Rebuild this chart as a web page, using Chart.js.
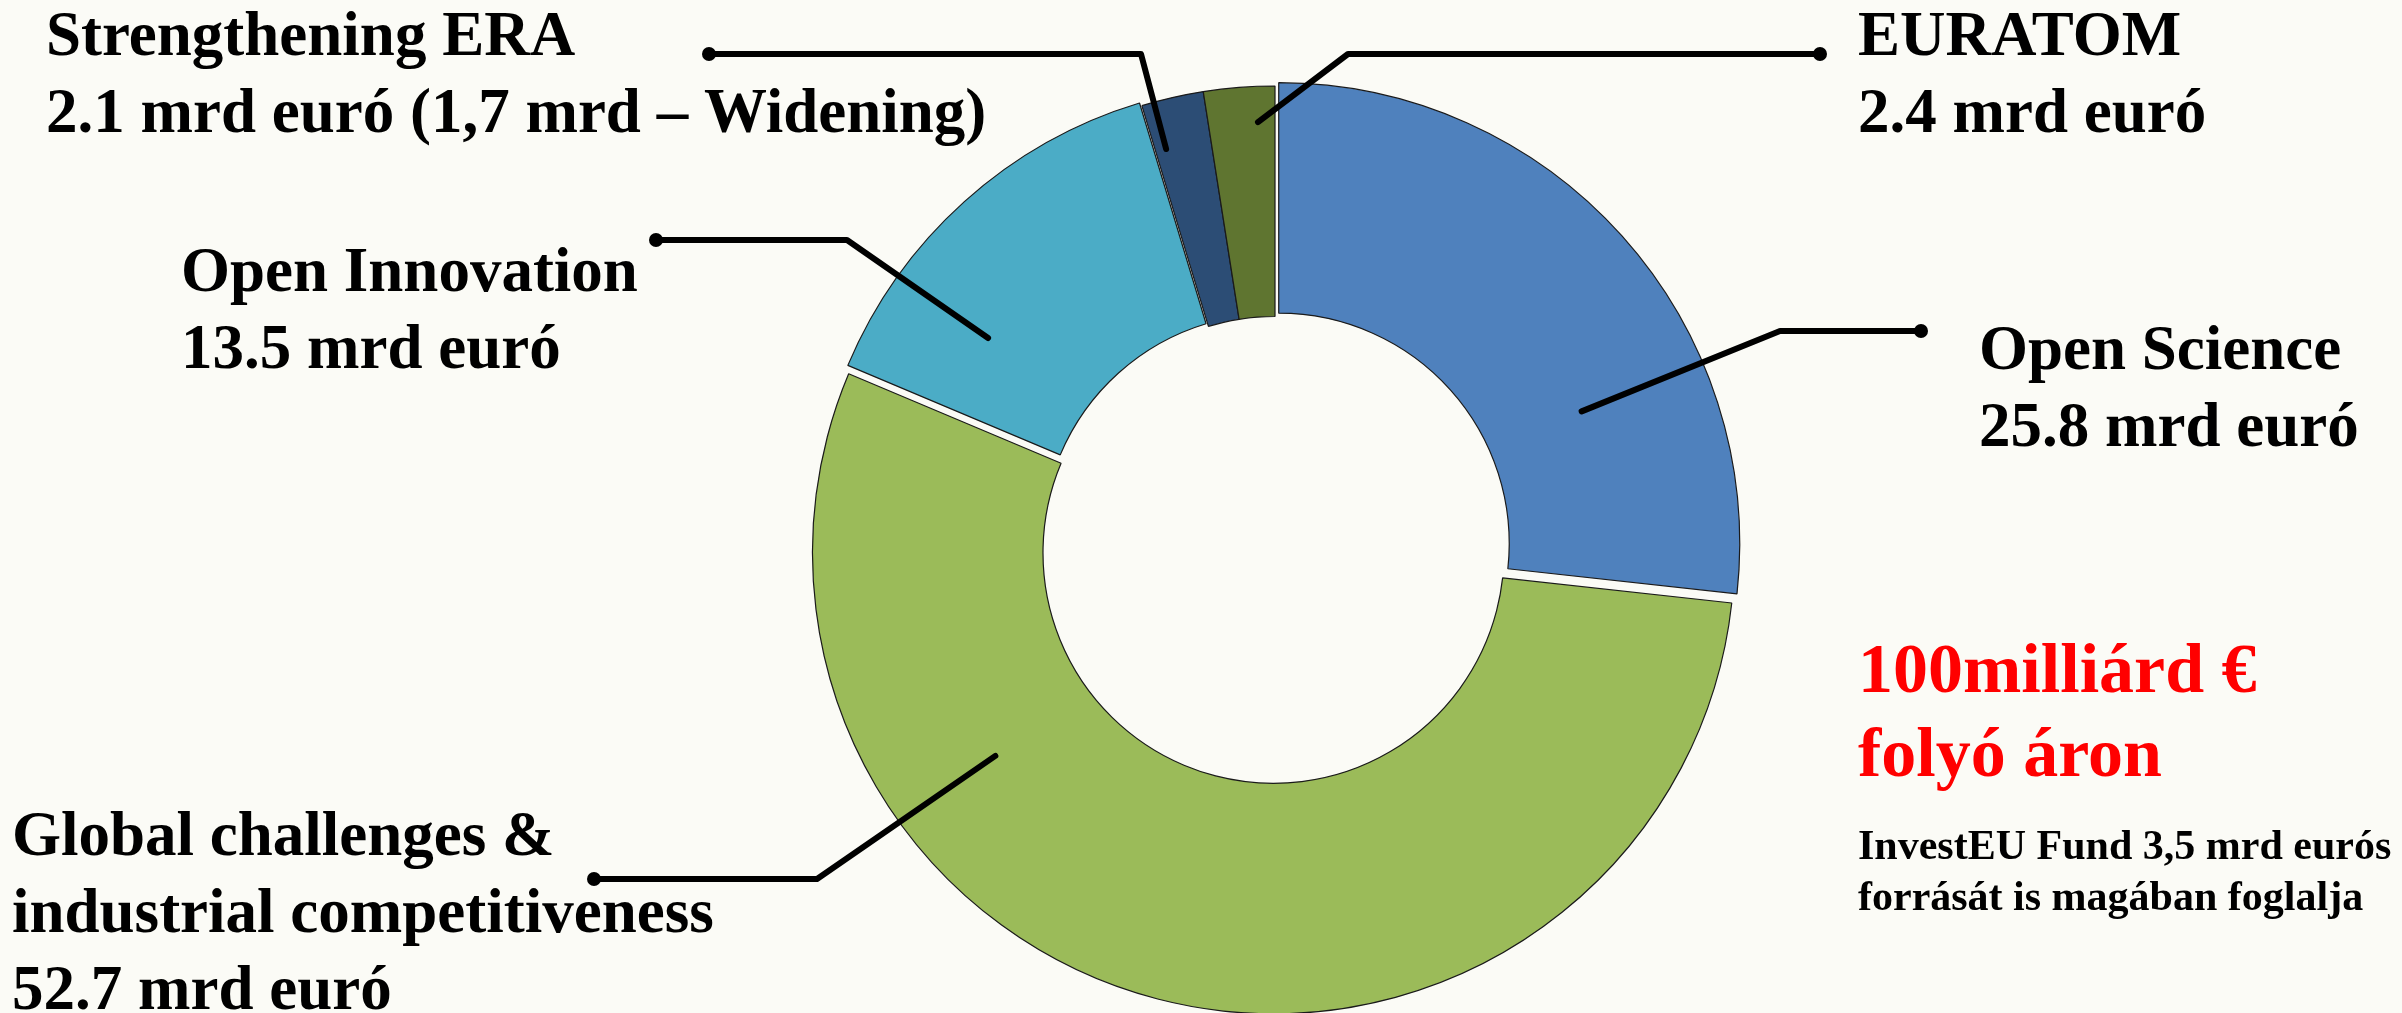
<!DOCTYPE html>
<html>
<head>
<meta charset="utf-8">
<script src="https://cdn.jsdelivr.net/npm/chart.js@4.4.0/dist/chart.umd.min.js"></script>
<style>
  html, body { margin: 0; padding: 0; background: #FBFBF6; overflow: hidden; }
  #wrap { position: relative; width: 2402px; height: 1013px; }
  canvas { display: block; }
</style>
</head>
<body>
<div id="wrap"><canvas id="c" width="2402" height="1013"></canvas></div>
<script>
// ---- data ----
const categories = ['Open Science', 'Global challenges & industrial competitiveness', 'Open Innovation', 'Strengthening ERA', 'EURATOM'];
const categoryLines = [['Open Science'], ['Global challenges &', 'industrial competitiveness'], ['Open Innovation'], ['Strengthening ERA'], ['EURATOM']];
const values = [25.8, 52.7, 13.5, 2.1, 2.4];
const valueLabels = ['25.8 mrd euró', '52.7 mrd euró', '13.5 mrd euró', '2.1 mrd euró (1,7 mrd – Widening)', '2.4 mrd euró'];
const totalLines = ['100milliárd €', 'folyó áron'];
const noteLines = ['InvestEU Fund 3,5 mrd eurós', 'forrását is magában foglalja'];

// ---- styles ----
const colors = ['#4F81BD', '#9BBB59', '#4BACC6', '#2C4D75', '#5F7530'];
const shifts = [5, 6, 3.5, 0, 0];           // explode distance of each slice (px)
const labelPos = [                          // x, first baseline
  [1979, 369], [12, 855], [181, 291], [46, 55], [1858, 55]
];
const leaders = [                           // angle fraction, radius fraction, elbow, dot
  {t: 0.69, rf: 0.434, elbow: [1780, 331], dot: [1921, 331]},
  {t: 0.70, rf: 0.494, elbow: [817, 879], dot: [594, 879]},
  {t: 0.26, rf: 0.525, elbow: [847, 240], dot: [656, 240]},
  {t: 0.19, rf: 0.79, elbow: [1141, 54], dot: [709, 54]},
  {t: 0.744, rf: 0.845, elbow: [1348, 54], dot: [1820, 54]}
];
const LINE_STEP = 77;
const SERIF = '"Liberation Serif", "Times New Roman", serif';

const explodePlugin = {
  id: 'explode',
  beforeDatasetsDraw(chart) {
    const meta = chart.getDatasetMeta(0);
    meta.data.forEach((arc, i) => {
      if (arc._patched) return;
      const orig = Object.getPrototypeOf(arc).draw;
      arc.draw = function (ctx) {
        const h = (this.startAngle + this.endAngle) / 2;
        const s = shifts[i] || 0;
        ctx.save();
        ctx.translate(Math.cos(h) * s, Math.sin(h) * s);
        orig.call(this, ctx);
        ctx.restore();
      };
      arc._patched = true;
    });
  }
};

const annotatePlugin = {
  id: 'annotate',
  afterDatasetsDraw(chart) {
    const ctx = chart.ctx;
    const meta = chart.getDatasetMeta(0);
    ctx.save();
    // leader lines
    meta.data.forEach((arc, i) => {
      const L = leaders[i];
      const p = arc.getProps(['x', 'y', 'startAngle', 'endAngle', 'innerRadius', 'outerRadius'], true);
      const h = (p.startAngle + p.endAngle) / 2;
      const s = shifts[i] || 0;
      const a = p.startAngle + L.t * (p.endAngle - p.startAngle);
      const rad = p.innerRadius + L.rf * (p.outerRadius - p.innerRadius);
      const sx = p.x + Math.cos(h) * s + Math.cos(a) * rad;
      const sy = p.y + Math.sin(h) * s + Math.sin(a) * rad;
      ctx.strokeStyle = '#000';
      ctx.lineWidth = 6;
      ctx.lineCap = 'round';
      ctx.lineJoin = 'round';
      ctx.beginPath();
      ctx.moveTo(sx, sy);
      ctx.lineTo(L.elbow[0], L.elbow[1]);
      ctx.lineTo(L.dot[0], L.dot[1]);
      ctx.stroke();
      ctx.fillStyle = '#000';
      ctx.beginPath();
      ctx.arc(L.dot[0], L.dot[1], 7, 0, Math.PI * 2);
      ctx.fill();
    });
    // slice labels
    ctx.fillStyle = '#000';
    ctx.textAlign = 'left';
    ctx.textBaseline = 'alphabetic';
    ctx.font = 'bold 63px ' + SERIF;
    categories.forEach((c, i) => {
      const lines = categoryLines[i].concat([valueLabels[i]]);
      const [x, y0] = labelPos[i];
      lines.forEach((ln, k) => ctx.fillText(ln, x, y0 + k * LINE_STEP));
    });
    // total
    ctx.fillStyle = '#FF0000';
    ctx.font = 'bold 70px ' + SERIF;
    totalLines.forEach((ln, k) => ctx.fillText(ln, 1858, 692 + k * 84));
    ctx.fillStyle = '#000';
    ctx.font = 'bold 42px ' + SERIF;
    noteLines.forEach((ln, k) => ctx.fillText(ln, 1858, 859 + k * 51));
    ctx.restore();
  }
};

new Chart(document.getElementById('c'), {
  type: 'doughnut',
  data: {
    labels: categories,
    datasets: [{
      data: values,
      backgroundColor: colors,
      borderColor: '#1a1a1a',
      borderWidth: 1.2
    }]
  },
  options: {
    responsive: false,
    animation: false,
    events: [],
    radius: 461,
    cutout: '50%',
    layout: { padding: { left: 148, right: 0, top: 81, bottom: 0 } },
    plugins: { legend: { display: false }, tooltip: { enabled: false }, title: { display: false } }
  },
  plugins: [explodePlugin, annotatePlugin]
});
</script>
</body>
</html>
